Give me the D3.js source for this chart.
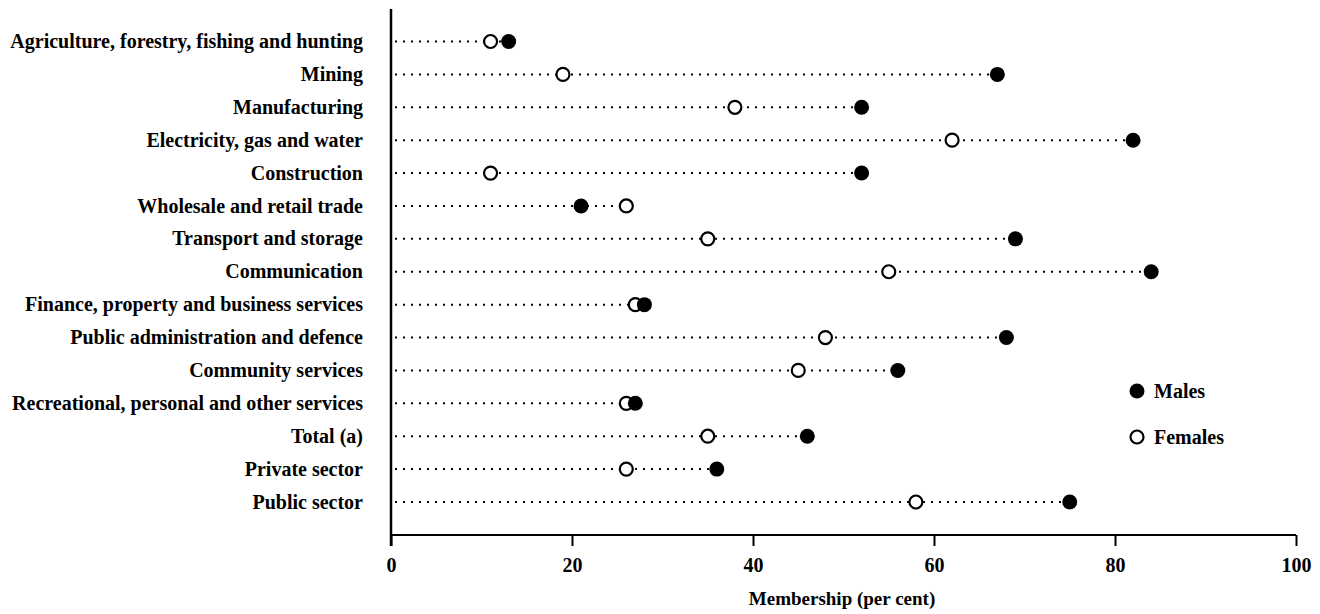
<!DOCTYPE html>
<html>
<head>
<meta charset="utf-8">
<script src="https://cdn.jsdelivr.net/npm/d3@7"></script>
<style>
  body { margin: 0; background: #fff; }
  svg text { font-family: "Liberation Serif", "DejaVu Serif", serif; fill: #000; font-weight: bold; }
</style>
</head>
<body>
<svg id="chart" width="1320" height="614"></svg>
<script>
// industries, top to bottom
var industries = [
  'Agriculture, forestry, fishing and hunting',
  'Mining',
  'Manufacturing',
  'Electricity, gas and water',
  'Construction',
  'Wholesale and retail trade',
  'Transport and storage',
  'Communication',
  'Finance, property and business services',
  'Public administration and defence',
  'Community services',
  'Recreational, personal and other services',
  'Total (a)',
  'Private sector',
  'Public sector'
];
var males   = [13, 67, 52, 82, 52, 21, 69, 84, 28, 68, 56, 27, 46, 36, 75];
var females = [11, 19, 38, 62, 11, 26, 35, 55, 27, 48, 45, 26, 35, 26, 58];
var xTicks = [0, 20, 40, 60, 80, 100];

var svg = d3.select('#chart');

var x = d3.scaleLinear().domain([0, 100]).range([391, 1296]);
var y = d3.scalePoint().domain(industries).range([41.5, 502]);

var rows = industries.map(function(d, i) {
  return { name: d, m: males[i], f: females[i] };
});

// dotted guide lines, axis to the farthest dot
svg.selectAll('.guide')
  .data(rows)
  .enter().append('line')
  .attr('class', 'guide')
  .attr('x1', x(0) + 4)
  .attr('x2', function(d) { return x(Math.max(d.m, d.f)); })
  .attr('y1', function(d) { return y(d.name); })
  .attr('y2', function(d) { return y(d.name); })
  .attr('stroke', '#000')
  .attr('stroke-width', 2)
  .attr('stroke-dasharray', '2,6');

// category labels
svg.selectAll('.label')
  .data(rows)
  .enter().append('text')
  .attr('class', 'label')
  .attr('x', 363)
  .attr('y', function(d) { return y(d.name); })
  .attr('dy', '0.33em')
  .attr('text-anchor', 'end')
  .style('font-size', '20px')
  .text(function(d) { return d.name; });

// females (open) then males (filled)
svg.selectAll('.fem')
  .data(rows)
  .enter().append('circle')
  .attr('class', 'fem')
  .attr('cx', function(d) { return x(d.f); })
  .attr('cy', function(d) { return y(d.name); })
  .attr('r', 6.5)
  .attr('fill', '#fff')
  .attr('stroke', '#000')
  .attr('stroke-width', 2.2);

svg.selectAll('.male')
  .data(rows)
  .enter().append('circle')
  .attr('class', 'male')
  .attr('cx', function(d) { return x(d.m); })
  .attr('cy', function(d) { return y(d.name); })
  .attr('r', 7.5)
  .attr('fill', '#000');

// axes
var xAxis = d3.axisBottom(x).tickValues(xTicks).tickSize(11).tickPadding(12);
var gx = svg.append('g')
  .attr('transform', 'translate(0,535)')
  .call(xAxis);
gx.select('.domain').attr('stroke-width', 2).attr('d', 'M' + x(0) + ',0H' + x(100));
gx.selectAll('.tick line').attr('stroke-width', 2);
gx.selectAll('.tick text')
  .style('font-size', '20px')
  .style('font-family', '"Liberation Serif", serif')
  .style('font-weight', 'bold');

svg.append('line')
  .attr('x1', x(0)).attr('x2', x(0))
  .attr('y1', 9).attr('y2', 546)
  .attr('stroke', '#000')
  .attr('stroke-width', 2.5);

svg.append('text')
  .attr('x', 842)
  .attr('y', 605)
  .attr('text-anchor', 'middle')
  .style('font-size', '19px')
  .text('Membership (per cent)');

// legend
var legend = [
  { label: 'Males', filled: true, y: 391 },
  { label: 'Females', filled: false, y: 437 }
];
var lg = svg.selectAll('.legend')
  .data(legend)
  .enter().append('g')
  .attr('class', 'legend')
  .attr('transform', function(d) { return 'translate(1137,' + d.y + ')'; });
lg.append('circle')
  .attr('r', function(d) { return d.filled ? 7.5 : 6.5; })
  .attr('fill', function(d) { return d.filled ? '#000' : '#fff'; })
  .attr('stroke', '#000')
  .attr('stroke-width', function(d) { return d.filled ? 0 : 2.2; });
lg.append('text')
  .attr('x', 17)
  .attr('dy', '0.33em')
  .style('font-size', '20px')
  .text(function(d) { return d.label; });
</script>
</body>
</html>
